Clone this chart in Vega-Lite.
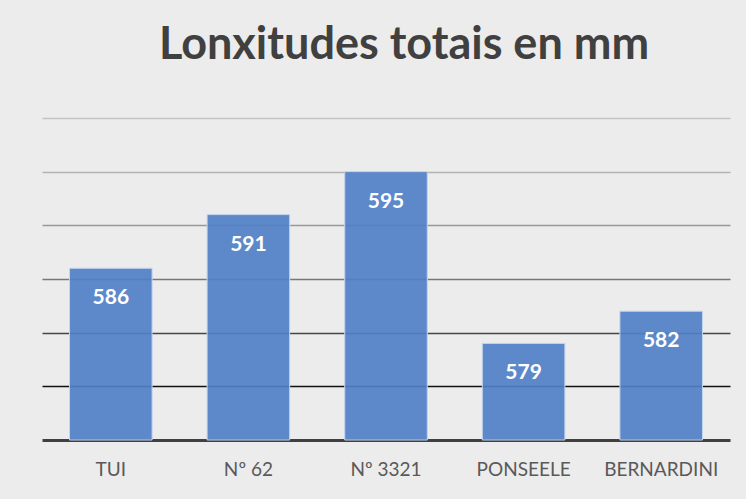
{
  "$schema": "https://vega.github.io/schema/vega-lite/v6.json",
  "width": 688,
  "height": 322,
  "autosize": {"type": "none"},
  "padding": {"left": 42, "top": 118, "right": 16, "bottom": 59},
  "background": "#ececec",
  "title": {
    "text": "Lonxitudes totais en mm",
    "font": "Lato",
    "fontSize": 45,
    "fontWeight": "bold",
    "color": "#404040",
    "anchor": "middle",
    "dx": 18,
    "offset": 50
  },
  "data": {
    "values": [
      {"name": "TUI", "length": 586},
      {"name": "Nº 62", "length": 591},
      {"name": "Nº 3321", "length": 595},
      {"name": "PONSEELE", "length": 579},
      {"name": "BERNARDINI", "length": 582}
    ]
  },
  "config": {"view": {"stroke": null}},
  "encoding": {
    "x": {
      "field": "name",
      "type": "nominal",
      "sort": null,
      "scale": {"paddingInner": 0.4, "paddingOuter": 0.2},
      "axis": {
        "title": null,
        "labelAngle": 0,
        "labelFont": "Lato",
        "labelFontSize": 19,
        "labelColor": "#595959",
        "labelPadding": 20,
        "ticks": false,
        "domainColor": "#404040",
        "domainWidth": 3
      }
    },
    "y": {
      "field": "length",
      "type": "quantitative",
      "scale": {"domain": [570, 600], "zero": false, "nice": false},
      "axis": {
        "title": null,
        "labels": false,
        "ticks": false,
        "domain": false,
        "values": [575, 580, 585, 590, 595, 600],
        "gridWidth": 1.5,
        "gridColor": {
          "condition": [
            {"test": "datum.value <= 575", "value": "#111111"},
            {"test": "datum.value <= 580", "value": "#454545"},
            {"test": "datum.value <= 585", "value": "#777777"},
            {"test": "datum.value <= 590", "value": "#999999"},
            {"test": "datum.value <= 595", "value": "#b2b2b2"}
          ],
          "value": "#c2c2c2"
        }
      }
    }
  },
  "layer": [
    {
      "mark": {
        "type": "bar",
        "fill": "#5080c8",
        "fillOpacity": 0.92,
        "stroke": "#c5d4ee",
        "strokeWidth": 1
      },
      "encoding": {"y2": {"datum": 570}}
    },
    {
      "mark": {
        "type": "text",
        "font": "Lato",
        "fontSize": 21,
        "fontWeight": "bold",
        "color": "white",
        "baseline": "middle",
        "dy": 30
      },
      "encoding": {"text": {"field": "length", "type": "quantitative"}}
    }
  ]
}
